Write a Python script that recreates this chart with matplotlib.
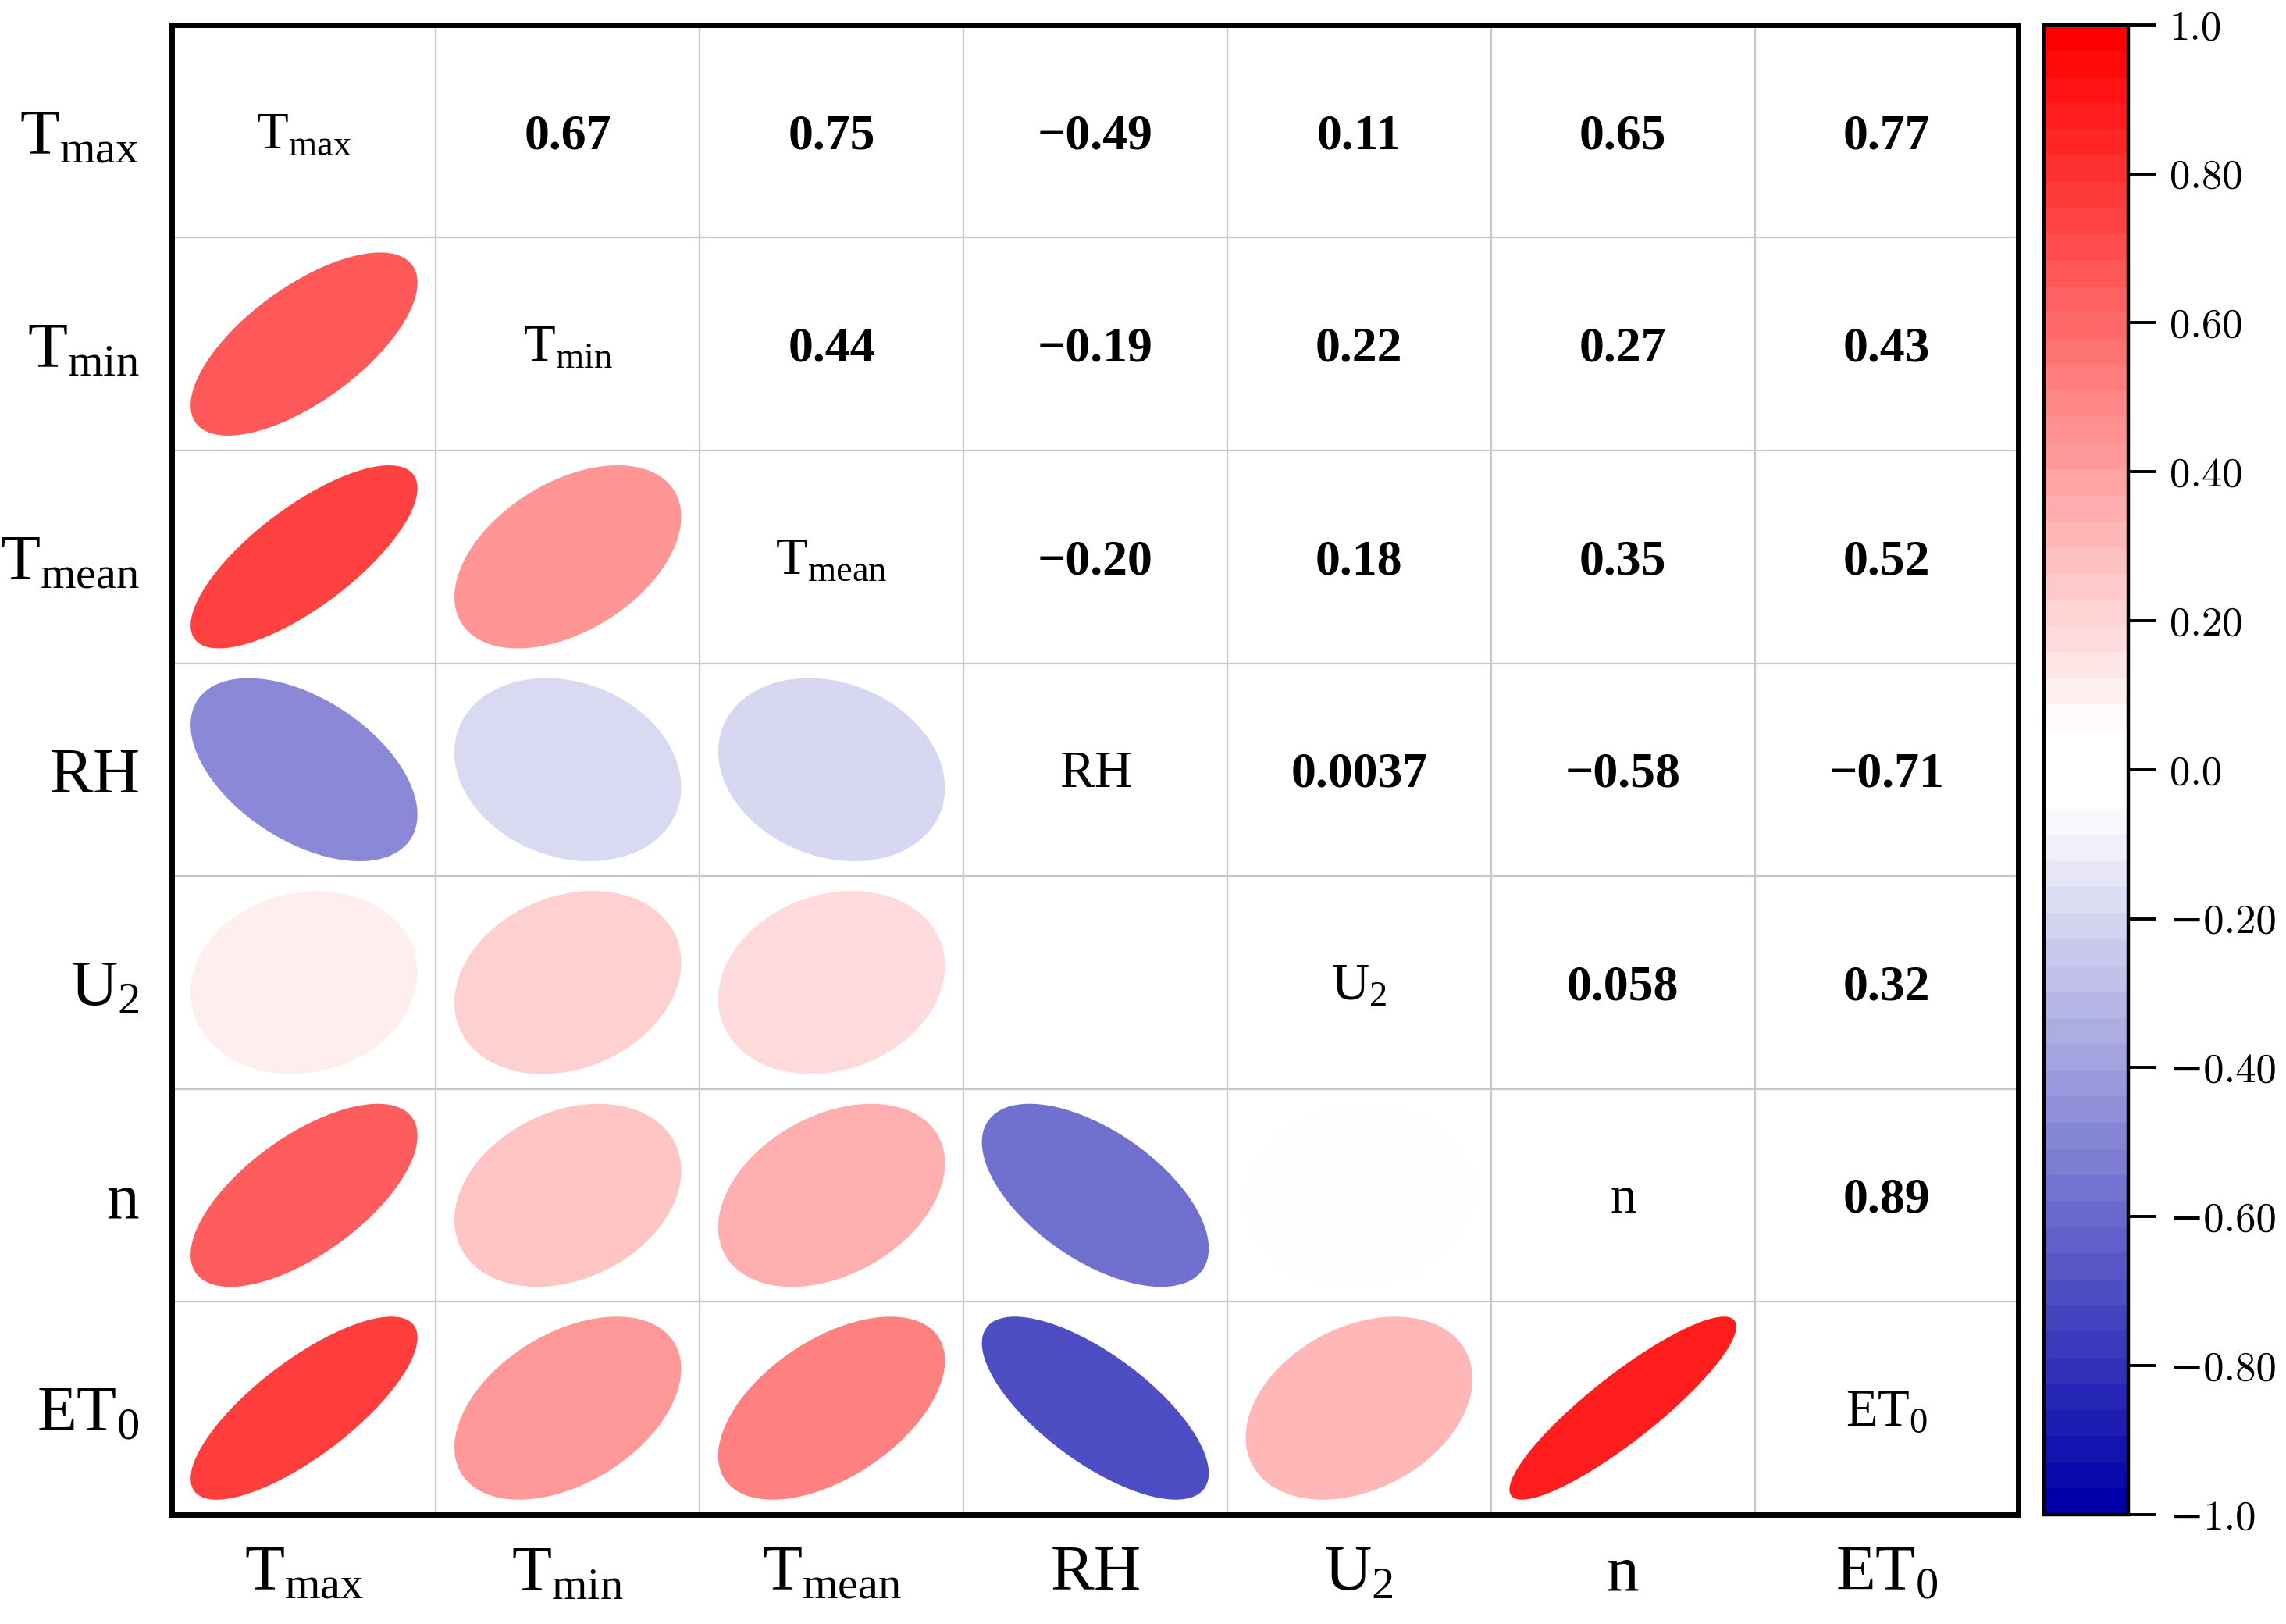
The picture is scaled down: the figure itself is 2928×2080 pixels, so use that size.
import numpy as np
import matplotlib
matplotlib.use('Agg')
import matplotlib.pyplot as plt
from matplotlib.colors import LinearSegmentedColormap, Normalize
from matplotlib.cm import ScalarMappable

plt.rcParams['font.family'] = ['Liberation Serif', 'DejaVu Serif']
plt.rcParams['mathtext.fontset'] = 'custom'
plt.rcParams['mathtext.rm'] = 'Liberation Serif'
plt.rcParams['mathtext.it'] = 'Liberation Serif:italic'
plt.rcParams['mathtext.bf'] = 'Liberation Serif:bold'

# ---------------- data ----------------
labels = [r'$\mathrm{T_{max}}$', r'$\mathrm{T_{min}}$', r'$\mathrm{T_{mean}}$',
          r'$\mathrm{RH}$', r'$\mathrm{U_{2}}$', r'$\mathrm{n}$', r'$\mathrm{ET_{0}}$']

row_Tmax = [1.00, 0.67, 0.75, -0.49, 0.11, 0.65, 0.77]
row_Tmin = [0.67, 1.00, 0.44, -0.19, 0.22, 0.27, 0.43]
row_Tmean = [0.75, 0.44, 1.00, -0.20, 0.18, 0.35, 0.52]
row_RH = [-0.49, -0.19, -0.20, 1.00, 0.0037, -0.58, -0.71]
row_U2 = [0.11, 0.22, 0.18, 0.0037, 1.00, 0.058, 0.32]
row_n = [0.65, 0.27, 0.35, -0.58, 0.058, 1.00, 0.89]
row_ET0 = [0.77, 0.43, 0.52, -0.71, 0.32, 0.89, 1.00]

cbar_ticks = [-1.0, -0.8, -0.6, -0.4, -0.2, 0.0, 0.2, 0.4, 0.6, 0.8, 1.0]
cbar_ticklabels = ['\u22121.0', '\u22120.80', '\u22120.60', '\u22120.40', '\u22120.20',
                   '0.0', '0.20', '0.40', '0.60', '0.80', '1.0']

corr = np.array([row_Tmax, row_Tmin, row_Tmean, row_RH, row_U2, row_n, row_ET0])
n = len(labels)

# blue -> white (small band around zero) -> red
cmap = LinearSegmentedColormap.from_list(
    'bwr_corr',
    [(0.0, '#0000AA'), (0.475, '#FFFFFF'), (0.525, '#FFFFFF'), (1.0, '#FF0000')],
    N=256)
cmap_bar = cmap.resampled(57)
norm = Normalize(-1, 1)


def fmt(v):
    if abs(v) >= 0.1:
        s = f'{v:.2f}'
    else:
        s = f'{v:.2g}'
    return s.replace('-', '\u2212')


fig = plt.figure(figsize=(14.64, 10.40), dpi=200)
ax = fig.add_axes([0.0753, 0.0674, 0.8077, 0.9173])
ax.set_xlim(0, n)
ax.set_ylim(n, 0)

for k in range(1, n):
    ax.axvline(k, color='#c8c8c8', lw=0.8, zorder=0)
    ax.axhline(k, color='#c8c8c8', lw=0.8, zorder=0)

t = np.linspace(0, 2 * np.pi, 240)
half = 0.43
for i in range(n):
    for j in range(n):
        v = corr[i, j]
        cx, cy = j + 0.5, i + 0.5
        if i == j:
            ax.text(cx, cy + 0.02, labels[i], ha='center', va='center', fontsize=24, zorder=3)
        elif j > i:
            ax.text(cx, cy, fmt(v), ha='center', va='center_baseline', fontsize=23,
                    fontweight='bold', zorder=3)
        else:
            d = np.arccos(v)
            xs = cx + half * np.cos(t + d / 2)
            ys = cy - half * np.cos(t - d / 2)
            ax.fill(xs, ys, color=cmap(norm(v)), lw=0, zorder=2)

ax.set_xticks(np.arange(n) + 0.5)
ax.set_xticklabels(labels, fontsize=30)
ax.set_yticks(np.arange(n) + 0.5)
ax.set_yticklabels(labels, fontsize=30)
ax.tick_params(axis='x', length=0, pad=14)
ax.tick_params(axis='y', length=0, pad=15)
for sp in ax.spines.values():
    sp.set_linewidth(2.5)

cax = fig.add_axes([0.894, 0.0674, 0.037, 0.9173])
sm = ScalarMappable(norm=norm, cmap=cmap_bar)
cb = fig.colorbar(sm, cax=cax)
cb.outline.set_linewidth(1.6)
cax.set_yticks(cbar_ticks, labels=cbar_ticklabels,
               fontfamily=['cmr10', 'DejaVu Serif'], fontsize=19)
cax.tick_params(length=13, width=1.4, pad=6)

fig.savefig('out.png', dpi=200)
